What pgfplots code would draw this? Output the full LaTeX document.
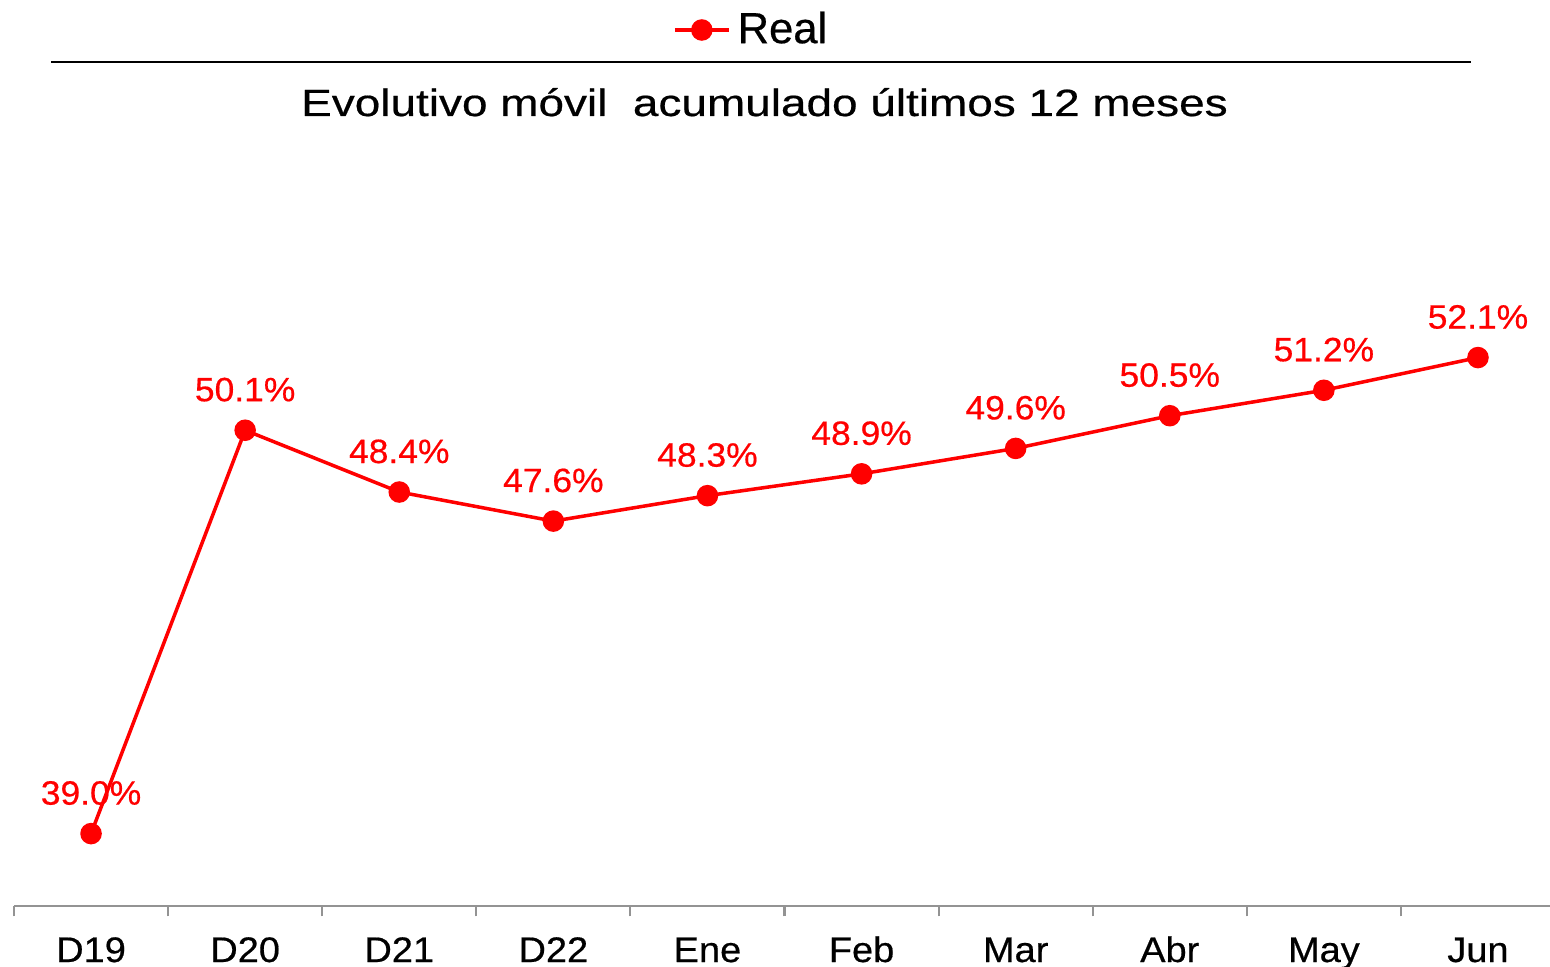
\documentclass[border=0pt]{standalone}
\usepackage{pgfplots}
\pgfplotsset{compat=1.18}
\usepackage{pgfplotstable}
\usepackage{fontspec}
\setmainfont[FakeBold=0.4,AutoFakeBold=0.4]{Liberation Sans}
\newfontfamily\titlefont[FakeStretch=1.21,FakeBold=0.5]{Liberation Sans}
\newfontfamily\tickfont[FakeStretch=1.07,FakeBold=0.5]{Liberation Sans}
\newfontfamily\labfont[FakeStretch=1.05,FakeBold=0.5]{Liberation Sans}
\newfontfamily\legfont[FakeBold=0.5]{Liberation Sans}
\pgfplotstableread{
x y lab
0 39.0 39.0\%
1 50.1 50.1\%
2 48.4 48.4\%
3 47.6 47.6\%
4 48.3 48.3\%
5 48.9 48.9\%
6 49.6 49.6\%
7 50.5 50.5\%
8 51.2 51.2\%
9 52.1 52.1\%
}\datatable
\begin{document}
\begin{tikzpicture}[x=1cm,y=1cm]
\useasboundingbox (0,0) rectangle (15.5,9.67);
\begin{axis}[
  at={(0.14cm,0.607cm)}, anchor=south west,
  scale only axis, width=15.41cm, height=7.268cm,
  xmin=-0.5, xmax=9.5, ymin=37, ymax=57,
  axis x line*=bottom, axis y line=none,
  axis line style={draw=gray!85, line width=0.6pt},
  xtick={0,...,9},
  xticklabels={D19,D20,D21,D22,Ene,Feb,Mar,Abr,May,Jun},
  major tick length=0pt,
  minor xtick={-0.5,0.5,...,9.5},
  minor tick length=0.1cm,
  tick align=outside,
  minor tick style={draw=gray!85, line width=0.6pt},
  xticklabel style={font=\tickfont\fontsize{10.1pt}{12pt}\selectfont, anchor=base, yshift=-0.557cm, inner sep=0pt},
  clip=false,
  legend style={draw=none, fill=none, at={(0.48,1.2057)}, anchor=center, font=\legfont\fontsize{12.4pt}{14pt}\selectfont, inner sep=0pt},
  legend image code/.code={\draw[#1] (0cm,0cm) -- (0.27cm,0cm) (0.54cm,0cm)--(0.27cm,0cm); \fill[red] (0.27cm,0cm) circle (0.09cm);},
]
\addplot[red, line width=1.0pt, mark=*, mark size=0.09cm, mark options={fill=red, draw=red},
  nodes near coords, point meta=explicit symbolic,
  every node near coord/.style={font=\labfont\fontsize{9.6pt}{11pt}\selectfont, text=red, anchor=base, yshift=0.29cm, inner sep=0pt}]
  table[x=x, y=y, meta=lab] {\datatable};
\addlegendentry{Real}
\end{axis}
\node[anchor=base, font=\titlefont\fontsize{10.8pt}{12pt}\selectfont, inner sep=0pt] at (7.645,8.51) {Evolutivo móvil\ \ acumulado últimos 12 meses};
\draw[black, line width=0.6pt] (0.51,9.05) -- (14.71,9.05);
\end{tikzpicture}
\end{document}
